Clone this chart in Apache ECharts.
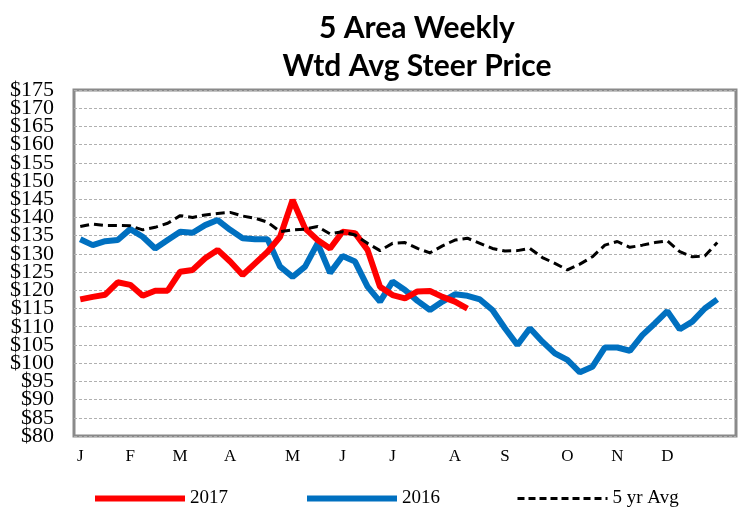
<!DOCTYPE html>
<html>
<head>
    <meta charset="utf-8">
    <title>5 Area Weekly Wtd Avg Steer Price</title>
    <script src="https://cdn.jsdelivr.net/npm/echarts@6/dist/echarts.min.js"></script>
    <style>
        html, body { margin: 0; padding: 0; background: #fff; }
        #main { width: 750px; height: 512px; }
    </style>
</head>
<body>
<div id="main"></div>
<script>
    // 53 weekly slots, month letter on the first week of each month
    var monthLabels = ['J', 'F', 'M', 'A', 'M', 'J', 'J', 'A', 'S', 'O', 'N', 'D'];
    var monthWeeks = [0, 4, 8, 12, 17, 21, 25, 30, 34, 39, 43, 47];

    var price2017 = [117.5, 118.2, 118.8, 122.2, 121.5, 118.5, 119.9, 119.9, 125.1, 125.6,
        128.8, 131.1, 127.9, 124.2, 127.4, 130.6, 134.7, 144.8, 137, 133.8,
        131.5, 136.1, 135.7, 131.1, 121, 118.7, 117.8, 119.7, 119.8, 118.2,
        116.9, 115];
    var price2016 = [134, 132.4, 133.5, 133.8, 136.8, 134.7, 131.5, 133.8, 136.1, 135.8,
        137.9, 139.3, 136.6, 134.3, 134, 134, 126.5, 123.7, 126.5, 132.9,
        124.8, 129.4, 127.9, 121, 116.9, 122.4, 120.1, 117.1, 114.6, 116.9,
        118.9, 118.5, 117.5, 114.6, 109.6, 105, 109.6, 105.9, 102.7, 100.9,
        97.5, 99, 104.3, 104.3, 103.4, 107.7, 110.9, 114.3, 109.3, 111.4,
        115, 117.5];
    var price5yr = [137.5, 138.2, 137.8, 137.8, 137.7, 136.6, 137.3, 138.4, 140.5, 140.0,
        140.7, 141.1, 141.4, 140.4, 139.8, 138.7, 136.1, 136.6, 136.8, 137.5,
        135.5, 136.1, 135.2, 132.9, 130.9, 132.9, 133.1, 131.5, 130.3, 132.2,
        133.8, 134.3, 132.9, 131.5, 130.8, 130.9, 131.5, 129, 127.4, 125.6,
        127.2, 129.2, 132.4, 133.4, 131.8, 132.4, 133.1, 133.6, 130.6, 129.2,
        129.4, 133.1];

    var weeks = [];
    for (var i = 0; i < 53; i++) {
        var k = monthWeeks.indexOf(i);
        weeks.push(k >= 0 ? monthLabels[k] : '');
    }

    var serif = 'Liberation Serif';

    // the $ labels are tight, so split them over two stacked axes
    // (even and odd steps of 5) to stop echarts dropping any of them
    function priceAxis(even, withGrid) {
        return {
            type: 'value',
            position: 'left',
            min: 80,
            max: 175,
            interval: 5,
            axisLine: { show: false },
            axisTick: { show: false },
            axisLabel: {
                margin: 20,
                fontFamily: serif,
                fontSize: 22,
                color: '#000',
                hideOverlap: false,
                formatter: function (v) {
                    var isEven = (v / 5) % 2 === 0;
                    return isEven === even ? '$' + v : '';
                }
            },
            splitLine: {
                show: withGrid,
                lineStyle: { color: '#b0b0b0', width: 1, type: [3, 2] }
            }
        };
    }

    var chart = echarts.init(document.getElementById('main'));
    var option = {
        animation: false,
        title: {
            text: '5 Area Weekly\nWtd Avg Steer Price',
            left: 412,
            top: 4,
            textAlign: 'center',
            textStyle: {
                fontFamily: 'Lato',
                fontWeight: 'bold',
                fontSize: 30,
                lineHeight: 38,
                color: '#000'
            }
        },
        legend: {
            data: [
                { name: '2017', itemStyle: { opacity: 0 }, lineStyle: { width: 6 } },
                { name: '2016', itemStyle: { opacity: 0 }, lineStyle: { width: 6 } },
                { name: '5 yr Avg', itemStyle: { opacity: 0 }, lineStyle: { width: 3, type: [7, 4] } }
            ],
            left: 87,
            top: 484,
            itemWidth: 90,
            itemHeight: 14,
            itemGap: 76,
            textStyle: { fontFamily: serif, fontSize: 19, color: '#000' }
        },
        grid: {
            left: 74,
            right: 14,
            top: 90,
            bottom: 76,
            show: true,
            borderColor: '#8a8a8a',
            borderWidth: 3
        },
        xAxis: {
            type: 'category',
            data: weeks,
            boundaryGap: true,
            axisTick: { show: false },
            axisLine: { show: false },
            axisLabel: {
                interval: 0,
                margin: 12,
                fontFamily: serif,
                fontSize: 17,
                color: '#000'
            }
        },
        yAxis: [priceAxis(true, true), priceAxis(false, false)],
        series: [
            {
                name: '2016',
                type: 'line',
                data: price2016,
                symbol: 'none',
                lineStyle: { color: '#0070c0', width: 6 },
                itemStyle: { color: '#0070c0' }
            },
            {
                name: '2017',
                type: 'line',
                data: price2017,
                symbol: 'none',
                lineStyle: { color: '#ff0000', width: 6 },
                itemStyle: { color: '#ff0000' }
            },
            {
                name: '5 yr Avg',
                type: 'line',
                data: price5yr,
                symbol: 'none',
                lineStyle: { color: '#000', width: 3, type: [9, 5] },
                itemStyle: { color: '#000' }
            }
        ]
    };
    chart.setOption(option);
</script>
</body>
</html>
